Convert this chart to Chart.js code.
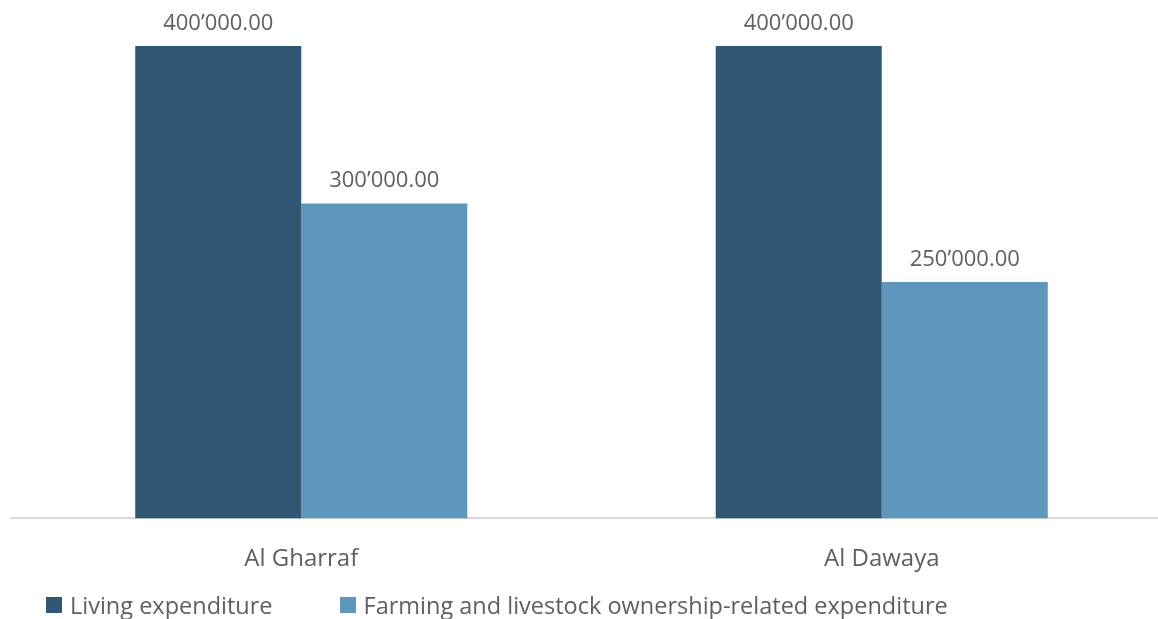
<!DOCTYPE html>
<html>
<head>
<meta charset="utf-8">
<script src="https://cdn.jsdelivr.net/npm/chart.js@4"></script>
<style>
  html, body { margin: 0; padding: 0; background: #fff; overflow: hidden; }
  #wrap { position: relative; width: 1158px; height: 619px; overflow: hidden; }
  #wrap canvas { position: absolute; left: 0; top: 0; }
  #legend { position: absolute; left: 46px; top: 589px; font-family: "Open Sans", sans-serif; font-size: 23.5px; color: #5f5f5f; display: flex; }
  #legend .item { display: flex; align-items: center; white-space: nowrap; }
  #legend .box { width: 16px; height: 16px; margin-right: 8px; }
</style>
</head>
<body>
<div id="wrap">
  <canvas id="chart"></canvas>
  <div id="legend"></div>
</div>
<script>
const regions = ["Al Gharraf", "Al Dawaya"];
const seriesNames = ["Living expenditure", "Farming and livestock ownership-related expenditure"];
const livingValues = [400000, 400000];
const farmingValues = [300000, 250000];
const colors = ["#325774", "#5e97bb"];

const textColor = "#5f5f5f";
const fontFamily = "'Open Sans', sans-serif";

function formatValue(v) {
  const parts = v.toFixed(2).split(".");
  return parts[0].replace(/\B(?=(\d{3})+(?!\d))/g, "\u2019") + "." + parts[1];
}

// value labels above each bar
const barLabels = {
  id: "barLabels",
  afterDatasetsDraw(chart) {
    const ctx = chart.ctx;
    ctx.save();
    ctx.font = "22px " + fontFamily;
    ctx.fillStyle = textColor;
    ctx.textAlign = "center";
    ctx.textBaseline = "alphabetic";
    chart.data.datasets.forEach((ds, i) => {
      chart.getDatasetMeta(i).data.forEach((bar, j) => {
        ctx.fillText(formatValue(ds.data[j]), bar.x, bar.y - 16);
      });
    });
    ctx.restore();
  }
};

const canvas = document.getElementById("chart");
canvas.width = 1180;
canvas.height = 619;
canvas.style.width = "1180px";
canvas.style.height = "619px";

const chart = new Chart(canvas.getContext("2d"), {
  type: "bar",
  data: {
    labels: regions,
    datasets: [
      { label: seriesNames[0], data: livingValues, backgroundColor: colors[0] },
      { label: seriesNames[1], data: farmingValues, backgroundColor: colors[1] }
    ]
  },
  options: {
    responsive: false,
    animation: false,
    devicePixelRatio: 1,
    layout: { padding: { top: 46, left: 11, right: 8, bottom: 26 } },
    datasets: { bar: { barPercentage: 1, categoryPercentage: 0.572 } },
    plugins: { legend: { display: false }, tooltip: { enabled: false } },
    scales: {
      x: {
        grid: { display: false },
        border: { display: true, color: "#d9d9d9", width: 2 },
        ticks: { color: textColor, font: { family: fontFamily, size: 24 }, padding: 19 }
      },
      y: { display: false, min: 100000, max: 400000 }
    }
  },
  plugins: [barLabels]
});

// legend built from the datasets
const legend = document.getElementById("legend");
chart.data.datasets.forEach((ds, i) => {
  const item = document.createElement("div");
  item.className = "item";
  if (i > 0) item.style.marginLeft = "67px";
  const box = document.createElement("span");
  box.className = "box";
  box.style.background = ds.backgroundColor;
  const txt = document.createElement("span");
  txt.textContent = ds.label;
  item.appendChild(box);
  item.appendChild(txt);
  legend.appendChild(item);
});
</script>
</body>
</html>
